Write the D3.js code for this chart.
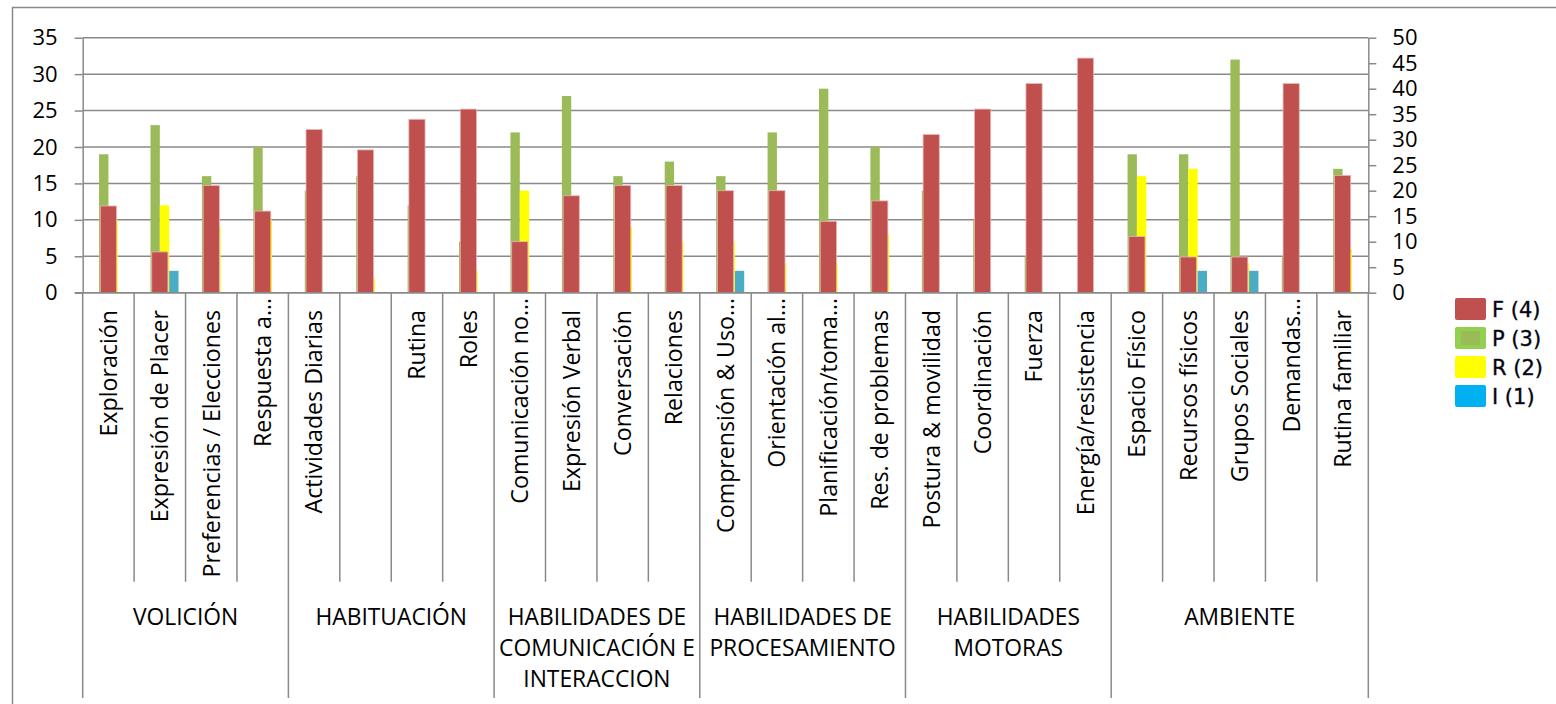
<!DOCTYPE html>
<html>
<head>
<meta charset="utf-8">
<script src="https://cdn.jsdelivr.net/npm/d3@7"></script>
<style>
  body { margin: 0; background: #fff; }
  text { font-family: "Open Sans", sans-serif; fill: #000; }
</style>
</head>
<body>
<svg id="chart" width="1556" height="704"></svg>
<script>
var categories = ["Exploración", "Expresión de Placer", "Preferencias / Elecciones", "Respuesta a…",
    "Actividades Diarias", "", "Rutina", "Roles",
    "Comunicación no…", "Expresión Verbal", "Conversación", "Relaciones",
    "Comprensión & Uso…", "Orientación al…", "Planificación/toma…", "Res. de problemas",
    "Postura & movilidad", "Coordinación", "Fuerza", "Energía/resistencia",
    "Espacio Físico", "Recursos físicos", "Grupos Sociales", "Demandas…", "Rutina familiar"]

var groupLabels = [["VOLICIÓN"], ["HABITUACIÓN"], ["HABILIDADES DE", "COMUNICACIÓN E", "INTERACCION"],
    ["HABILIDADES DE", "PROCESAMIENTO"], ["HABILIDADES", "MOTORAS"], ["AMBIENTE"]]
var groupSizes = [4, 4, 4, 4, 4, 5]

// F sits on the secondary (right) axis, the others on the primary one
var F = [17, 8, 21, 16, 32, 28, 34, 36, 10, 19, 21, 21, 20, 20, 14, 18, 31, 36, 41, 46, 11, 7, 7, 41, 23]
var P = [19, 23, 16, 20, 14, 16, 12, 7, 22, 27, 16, 18, 16, 22, 28, 20, 14, 10, 5, 0, 19, 19, 32, 5, 17]
var R = [10, 12, 9, 10, 0, 2, 0, 3, 14, 0, 9, 7, 7, 4, 4, 8, 0, 0, 0, 0, 16, 17, 4, 0, 6]
var I = [0, 3, 0, 0, 0, 0, 0, 0, 0, 0, 0, 0, 3, 0, 0, 0, 0, 0, 0, 0, 0, 3, 3, 0, 0]

var leftTicks = [0, 5, 10, 15, 20, 25, 30, 35]
var rightTicks = [0, 5, 10, 15, 20, 25, 30, 35, 40, 45, 50]
var legendNames = ["F (4)", "P (3)", "R (2)", "I (1)"]

var colors = { F: "#C0504D", P: "#9BBB59", R: "#FFFF00", I: "#4BACC6" }
var gridColor = "#8a8a8a"

var svg = d3.select("#chart")
svg.append("rect").attr("width", 1556).attr("height", 704).attr("fill", "#fff")

// outer chart frame (only top and left edges are inside the picture)
svg.append("path")
    .attr("d", "M12.5,704 L12.5,7.5 L1556,7.5")
    .attr("fill", "none").attr("stroke", gridColor).attr("stroke-width", 1.5)

var plotL = 82.7, plotR = 1368.3, plotT = 37.7, base = 292.7

var x = d3.scaleBand().domain(d3.range(categories.length)).range([plotL, plotR]).padding(0)
var yL = d3.scaleLinear().domain([0, 35]).range([base, plotT])
var yR = d3.scaleLinear().domain([0, 50]).range([base, plotT])

// primary cluster: 4 slots, first one empty (F is on secondary)
var inner = d3.scaleBand().domain(["F", "P", "R", "I"]).range([0, x.bandwidth()]).paddingInner(0).paddingOuter(0.75)
var innerF = d3.scaleBand().domain(["F"]).range([0, x.bandwidth()]).paddingOuter(1.09)

// gridlines
svg.append("g").selectAll("line")
    .data(leftTicks)
    .enter().append("line")
    .attr("x1", plotL).attr("x2", plotR)
    .attr("y1", function(d) { return yL(d) }).attr("y2", function(d) { return yL(d) })
    .attr("stroke", gridColor).attr("stroke-width", 1.5)

// primary bars
var primary = [["P", P], ["R", R], ["I", I]]
primary.forEach(function(s) {
    svg.append("g").selectAll("rect")
        .data(s[1])
        .enter().append("rect")
        .attr("x", function(d, i) { return x(i) + inner(s[0]) })
        .attr("width", inner.bandwidth())
        .attr("y", function(d) { return yL(d) })
        .attr("height", function(d) { return base - yL(d) })
        .attr("fill", colors[s[0]])
})

// secondary bars on top
svg.append("g").selectAll("rect")
    .data(F)
    .enter().append("rect")
    .attr("x", function(d, i) { return x(i) + innerF("F") })
    .attr("width", innerF.bandwidth())
    .attr("y", function(d) { return yR(d) })
    .attr("height", function(d) { return base - yR(d) })
    .attr("fill", colors.F)
    .attr("stroke", "#e8b4b2").attr("stroke-width", 0.8)

// axes
var axisL = svg.append("g")
    .attr("transform", "translate(" + plotL + ",0)")
    .call(d3.axisLeft(yL).tickValues(leftTicks).tickSize(8).tickSizeOuter(0).tickPadding(17))
var axisR = svg.append("g")
    .attr("transform", "translate(" + plotR + ",0)")
    .call(d3.axisRight(yR).tickValues(rightTicks).tickSize(8).tickSizeOuter(0).tickPadding(16))
;[axisL, axisR].forEach(function(a) {
    a.selectAll("path, line").attr("stroke", gridColor).attr("stroke-width", 1.5)
    a.selectAll("text").style("font-family", "'Open Sans', sans-serif").style("font-size", "22px").attr("fill", "#000")
})

// category axis baseline and separators
svg.append("line")
    .attr("x1", plotL - 8).attr("x2", plotR).attr("y1", base).attr("y2", base)
    .attr("stroke", gridColor).attr("stroke-width", 1.5)

var groupEdges = [0]
groupSizes.forEach(function(n) { groupEdges.push(groupEdges[groupEdges.length - 1] + n) })

svg.append("g").selectAll("line")
    .data(d3.range(categories.length + 1))
    .enter().append("line")
    .attr("x1", function(i) { return i < categories.length ? x(i) : plotR })
    .attr("x2", function(i) { return i < categories.length ? x(i) : plotR })
    .attr("y1", base)
    .attr("y2", function(i) { return groupEdges.indexOf(i) >= 0 ? 698 : 581.7 })
    .attr("stroke", gridColor).attr("stroke-width", 1.5)

// rotated category labels
svg.append("g").selectAll("text")
    .data(categories)
    .enter().append("text")
    .attr("transform", function(d, i) {
        var yEnd = d.slice(-1) == "…" ? 298 : 310
        return "translate(" + (x(i) + x.bandwidth() / 2) + "," + yEnd + ") rotate(-90)"
    })
    .attr("text-anchor", "end")
    .attr("dy", "0.36em")
    .style("font-size", "23.2px")
    .text(function(d) { return d })

// group labels
groupLabels.forEach(function(lines, g) {
    var cx = (x(groupEdges[g]) + (groupEdges[g + 1] < categories.length ? x(groupEdges[g + 1]) : plotR)) / 2
    svg.append("text")
        .attr("text-anchor", "middle")
        .style("font-size", "22.8px")
        .selectAll("tspan")
        .data(lines)
        .enter().append("tspan")
        .attr("x", cx)
        .attr("y", function(d, i) { return 625 + i * 30.8 })
        .text(function(d) { return d })
})

// legend
var legend = svg.append("g").attr("transform", "translate(1455,298)")
var legendColors = ["#C0504D", "#92D050", "#FFFF00", "#00B0F0"]
var rows = legend.selectAll("g")
    .data(legendNames)
    .enter().append("g")
    .attr("transform", function(d, i) { return "translate(0," + (i * 29) + ")" })
rows.append("rect")
    .attr("width", 31).attr("height", 22).attr("rx", 2)
    .attr("fill", function(d, i) { return legendColors[i] })
rows.filter(function(d, i) { return i == 1 })
    .append("rect")
    .attr("x", 6).attr("y", 4).attr("width", 19).attr("height", 14)
    .attr("fill", colors.P)
rows.append("text")
    .attr("x", 37).attr("y", 11).attr("dy", "0.36em")
    .style("font-family", "'DejaVu Sans', sans-serif")
    .style("font-size", "21px")
    .style("stroke", "#1c2340").style("stroke-width", 0.4)
    .attr("fill", "#1c2340")
    .text(function(d) { return d })
</script>
</body>
</html>
